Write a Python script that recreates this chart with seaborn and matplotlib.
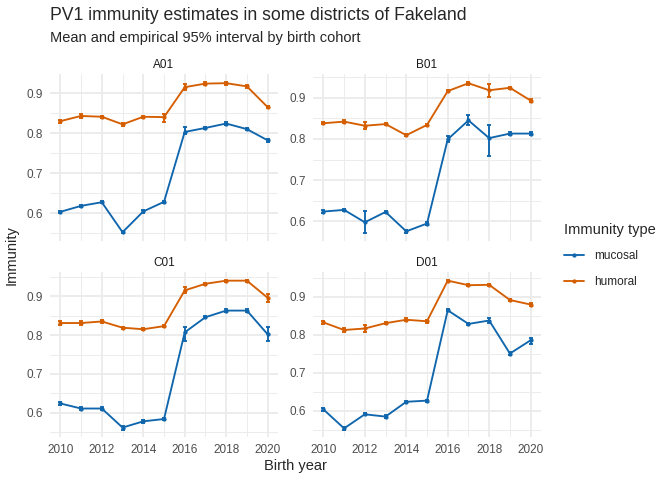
import numpy as np
import pandas as pd
import matplotlib
matplotlib.use('Agg')
import matplotlib.pyplot as plt
from matplotlib.lines import Line2D
from matplotlib.ticker import MultipleLocator, FormatStrFormatter
import seaborn as sns

# Data
years = [2010, 2011, 2012, 2013, 2014, 2015, 2016, 2017, 2018, 2019, 2020]
districts = ['A01', 'B01', 'C01', 'D01']
immunity_types = ['mucosal', 'humoral']

a01_mucosal = [0.603, 0.618, 0.627, 0.552, 0.604, 0.628, 0.803, 0.813, 0.824, 0.810, 0.782]
a01_mucosal_lo = [0.600, 0.615, 0.624, 0.549, 0.601, 0.625, 0.798, 0.810, 0.821, 0.807, 0.779]
a01_mucosal_hi = [0.606, 0.621, 0.630, 0.555, 0.607, 0.631, 0.815, 0.816, 0.827, 0.813, 0.785]
a01_humoral = [0.830, 0.843, 0.841, 0.822, 0.841, 0.840, 0.915, 0.924, 0.925, 0.917, 0.865]
a01_humoral_lo = [0.825, 0.838, 0.838, 0.819, 0.838, 0.829, 0.908, 0.921, 0.921, 0.914, 0.862]
a01_humoral_hi = [0.834, 0.847, 0.844, 0.825, 0.844, 0.847, 0.922, 0.927, 0.929, 0.920, 0.868]

b01_mucosal = [0.624, 0.628, 0.598, 0.623, 0.576, 0.595, 0.799, 0.845, 0.802, 0.813, 0.813]
b01_mucosal_lo = [0.620, 0.625, 0.571, 0.620, 0.573, 0.592, 0.793, 0.833, 0.758, 0.810, 0.810]
b01_mucosal_hi = [0.628, 0.631, 0.626, 0.626, 0.579, 0.598, 0.807, 0.857, 0.834, 0.816, 0.816]
b01_humoral = [0.838, 0.842, 0.832, 0.836, 0.809, 0.834, 0.916, 0.935, 0.918, 0.924, 0.893]
b01_humoral_lo = [0.835, 0.839, 0.823, 0.833, 0.806, 0.831, 0.913, 0.931, 0.901, 0.921, 0.890]
b01_humoral_hi = [0.841, 0.845, 0.842, 0.839, 0.812, 0.837, 0.919, 0.939, 0.932, 0.927, 0.896]

c01_mucosal = [0.624, 0.611, 0.611, 0.562, 0.578, 0.584, 0.807, 0.846, 0.863, 0.863, 0.802]
c01_mucosal_lo = [0.621, 0.608, 0.607, 0.557, 0.575, 0.581, 0.784, 0.843, 0.860, 0.860, 0.784]
c01_mucosal_hi = [0.627, 0.614, 0.615, 0.567, 0.581, 0.587, 0.821, 0.849, 0.866, 0.866, 0.822]
c01_humoral = [0.831, 0.831, 0.835, 0.819, 0.815, 0.823, 0.915, 0.932, 0.940, 0.940, 0.896]
c01_humoral_lo = [0.827, 0.827, 0.831, 0.816, 0.812, 0.820, 0.907, 0.929, 0.937, 0.937, 0.886]
c01_humoral_hi = [0.835, 0.835, 0.839, 0.822, 0.818, 0.826, 0.923, 0.935, 0.943, 0.943, 0.906]

d01_mucosal = [0.603, 0.553, 0.590, 0.584, 0.623, 0.626, 0.864, 0.828, 0.837, 0.750, 0.785]
d01_mucosal_lo = [0.600, 0.550, 0.587, 0.581, 0.620, 0.623, 0.861, 0.825, 0.831, 0.747, 0.775]
d01_mucosal_hi = [0.606, 0.556, 0.593, 0.587, 0.626, 0.629, 0.867, 0.831, 0.843, 0.753, 0.791]
d01_humoral = [0.832, 0.812, 0.816, 0.830, 0.839, 0.835, 0.942, 0.930, 0.931, 0.891, 0.879]
d01_humoral_lo = [0.828, 0.808, 0.807, 0.827, 0.835, 0.831, 0.939, 0.927, 0.928, 0.888, 0.875]
d01_humoral_hi = [0.836, 0.816, 0.825, 0.833, 0.843, 0.839, 0.945, 0.933, 0.934, 0.894, 0.883]

series = {
    ('A01', 'mucosal'): (a01_mucosal, a01_mucosal_lo, a01_mucosal_hi),
    ('A01', 'humoral'): (a01_humoral, a01_humoral_lo, a01_humoral_hi),
    ('B01', 'mucosal'): (b01_mucosal, b01_mucosal_lo, b01_mucosal_hi),
    ('B01', 'humoral'): (b01_humoral, b01_humoral_lo, b01_humoral_hi),
    ('C01', 'mucosal'): (c01_mucosal, c01_mucosal_lo, c01_mucosal_hi),
    ('C01', 'humoral'): (c01_humoral, c01_humoral_lo, c01_humoral_hi),
    ('D01', 'mucosal'): (d01_mucosal, d01_mucosal_lo, d01_mucosal_hi),
    ('D01', 'humoral'): (d01_humoral, d01_humoral_lo, d01_humoral_hi),
}

rows = []
for (dist, typ), (m, lo, hi) in series.items():
    for y, a, b, c in zip(years, m, lo, hi):
        rows.append({'district': dist, 'type': typ, 'year': y, 'mean': a, 'lo': b, 'hi': c})
df = pd.DataFrame(rows)

palette = {'mucosal': '#0F66AD', 'humoral': '#D55E00'}

sns.set_style('white')
plt.rcParams['font.family'] = ['Liberation Sans', 'DejaVu Sans']

fig = plt.figure(figsize=(7, 5), dpi=96)

# panel positions (left, bottom, width, height) in figure fraction
pw = 228 / 672
positions = {
    'A01': (50 / 672, 1 - 241 / 480, pw, 167 / 480),
    'B01': (313 / 672, 1 - 241 / 480, pw, 167 / 480),
    'C01': (50 / 672, 1 - 437 / 480, pw, 165 / 480),
    'D01': (313 / 672, 1 - 437 / 480, pw, 165 / 480),
}

for dist in districts:
    ax = fig.add_axes(positions[dist])
    sub = df[df['district'] == dist]
    sns.lineplot(data=sub, x='year', y='mean', hue='type', hue_order=immunity_types,
                 palette=palette, marker='o', markersize=3.2, markeredgewidth=0,
                 linewidth=1.4, legend=False, ax=ax, zorder=3)
    for typ in immunity_types:
        s = sub[sub['type'] == typ]
        ax.errorbar(s['year'], s['mean'], yerr=[s['mean'] - s['lo'], s['hi'] - s['mean']],
                    fmt='none', ecolor=palette[typ], elinewidth=1.4, capsize=1.8,
                    capthick=1.4, zorder=3)

    lo_all, hi_all = sub['lo'].min(), sub['hi'].max()
    pad = (hi_all - lo_all) * 0.05
    ax.set_ylim(lo_all - pad, hi_all + pad)
    ax.set_xlim(2009.5, 2020.5)

    ax.xaxis.set_major_locator(MultipleLocator(2))
    ax.xaxis.set_minor_locator(MultipleLocator(1))
    ax.yaxis.set_major_locator(MultipleLocator(0.1))
    ax.yaxis.set_minor_locator(MultipleLocator(0.05))
    ax.yaxis.set_major_formatter(FormatStrFormatter('%.1f'))
    ax.grid(which='major', color='#EBEBEB', linewidth=1.4)
    ax.grid(which='minor', color='#EBEBEB', linewidth=0.7)
    ax.set_axisbelow(True)
    ax.tick_params(which='both', length=0, labelsize=8.8, labelcolor='#4D4D4D', pad=5)
    if dist in ('A01', 'B01'):
        ax.tick_params(labelbottom=False)
    for sp in ax.spines.values():
        sp.set_visible(False)
    ax.set_xlabel('')
    ax.set_ylabel('')
    ax.set_title(dist, fontsize=8.8, color='#1A1A1A', pad=4.5)

fig.text(50 / 672, 1 - 20 / 480, 'PV1 immunity estimates in some districts of Fakeland',
         fontsize=13.2, ha='left', va='baseline')
fig.text(50 / 672, 1 - 42 / 480, 'Mean and empirical 95% interval by birth cohort',
         fontsize=11, ha='left', va='baseline')
fig.text(295.5 / 672, 1 - 470 / 480, 'Birth year', fontsize=11, ha='center', va='baseline')
fig.text(12 / 672, 1 - 255.5 / 480, 'Immunity', fontsize=11, rotation=90,
         ha='center', va='center')

handles = [Line2D([], [], color=palette[t], linewidth=1.4, marker='o', markersize=3.2,
                  markeredgewidth=0) for t in immunity_types]
leg = fig.legend(handles, immunity_types, title='Immunity type', loc='upper left',
                 bbox_to_anchor=(564 / 672, 1 - 223 / 480), frameon=False,
                 fontsize=8.8, title_fontsize=11, handlelength=1.7, handletextpad=0.85,
                 labelspacing=1.2, borderpad=0, borderaxespad=0, alignment='left')
leg._legend_box.sep = 10

fig.savefig('out.png', dpi=96)
